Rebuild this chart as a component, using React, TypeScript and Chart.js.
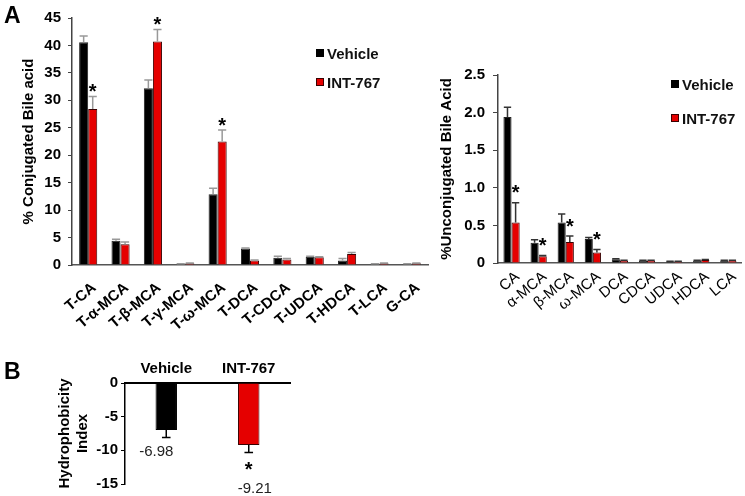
import React, { useEffect, useRef } from 'react';
import { Chart, registerables } from 'chart.js';

Chart.register(...registerables);

const FONT = '"Liberation Sans", Arial, Helvetica, sans-serif';

// ---------- Panel A (left): conjugated bile acids ----------
const conjCategories = ['T-CA', 'T-α-MCA', 'T-β-MCA', 'T-γ-MCA', 'T-ω-MCA', 'T-DCA', 'T-CDCA', 'T-UDCA', 'T-HDCA', 'T-LCA', 'G-CA'];
const conjVehicle = [40.6, 4.4, 32.2, 0.2, 12.9, 3.0, 1.3, 1.5, 0.8, 0.2, 0.2];
const conjVehicleErr = [1.1, 0.3, 1.5, 0.05, 1.1, 0.1, 0.3, 0.1, 0.4, 0.05, 0.05];
const conjInt = [28.4, 3.8, 40.7, 0.3, 22.5, 0.8, 1.0, 1.4, 2.0, 0.3, 0.3];
const conjIntErr = [2.3, 0.4, 2.2, 0.05, 2.1, 0.1, 0.2, 0.1, 0.3, 0.05, 0.05];
const conjIntSig = [true, false, true, false, true, false, false, false, false, false, false];
const conjYTicks = [0, 5, 10, 15, 20, 25, 30, 35, 40, 45];

// ---------- Panel A (right): unconjugated bile acids ----------
const unconjCategories = ['CA', 'α-MCA', 'β-MCA', 'ω-MCA', 'DCA', 'CDCA', 'UDCA', 'HDCA', 'LCA'];
const unconjVehicle = [1.94, 0.27, 0.54, 0.32, 0.05, 0.03, 0.02, 0.03, 0.03];
const unconjVehicleErr = [0.13, 0.04, 0.11, 0.02, 0.005, 0.005, 0.003, 0.005, 0.005];
const unconjInt = [0.54, 0.09, 0.28, 0.14, 0.03, 0.03, 0.02, 0.04, 0.03];
const unconjIntErr = [0.26, 0.01, 0.08, 0.04, 0.005, 0.005, 0.003, 0.005, 0.005];
const unconjIntSig = [true, true, true, true, false, false, false, false, false];
const unconjYTicks = [0, 0.5, 1, 1.5, 2, 2.5];

// ---------- Panel B: hydrophobicity index ----------
const hydroCategories = ['Vehicle', 'INT-767'];
const hydroValues = [-6.98, -9.21];
const hydroErr = [1.1, 1.1];
const hydroSig = [false, true];
const hydroYTicks = [0, -5, -10, -15];

const seriesNames = ['Vehicle', 'INT-767'];
const BLACK = '#000000';
const RED = '#e50000';

type ErrCfg = {
  errors: number[][];
  stars: boolean[][];
  color: string;
  lineWidth: number;
  capRatio: number;
  starGap: number;
  starSize: number;
  valueLabels?: boolean;
};

function makeErrPlugin(cfg: ErrCfg) {
  return {
    id: 'errAnno',
    afterDatasetsDraw(chart: any) {
      const ctx = chart.ctx;
      const y = chart.scales.y;
      ctx.save();
      cfg.errors.forEach((errs, di) => {
        const meta = chart.getDatasetMeta(di);
        const vals = chart.data.datasets[di].data as number[];
        meta.data.forEach((bar: any, i: number) => {
          const v = vals[i];
          const e = errs[i];
          const dir = v < 0 ? -1 : 1;
          const yEnd = y.getPixelForValue(v + dir * e);
          const w = bar.width * cfg.capRatio;
          ctx.strokeStyle = cfg.color;
          ctx.lineWidth = cfg.lineWidth;
          ctx.beginPath();
          ctx.moveTo(bar.x, bar.y);
          ctx.lineTo(bar.x, yEnd);
          ctx.moveTo(bar.x - w / 2, yEnd);
          ctx.lineTo(bar.x + w / 2, yEnd);
          ctx.stroke();
          const star = cfg.stars[di] && cfg.stars[di][i];
          if (star) {
            const cy = yEnd - dir * cfg.starGap;
            ctx.fillStyle = '#000';
            ctx.font = `bold ${cfg.starSize}px ${FONT}`;
            ctx.textAlign = 'center';
            ctx.textBaseline = 'alphabetic';
            ctx.fillText('*', bar.x, cy + cfg.starSize * 0.58);
          }
          if (cfg.valueLabels) {
            const ly = yEnd + (star ? 36 : 14);
            const lx = bar.x + (star ? 6 : -10);
            ctx.fillStyle = '#222';
            ctx.font = `15px ${FONT}`;
            ctx.textAlign = 'center';
            ctx.textBaseline = 'middle';
            ctx.fillText(v.toFixed(2), lx, ly);
          }
        });
      });
      ctx.restore();
    },
  };
}

function ChartBox({ left, top, width, height, make }: { left: number; top: number; width: number; height: number; make: () => any }) {
  const ref = useRef<HTMLCanvasElement>(null);
  useEffect(() => {
    const chart = new Chart(ref.current as HTMLCanvasElement, make());
    return () => chart.destroy();
  }, []);
  return <canvas ref={ref} width={width} height={height} style={{ position: 'absolute', left, top, width, height }} />;
}

function Legend({ left, top, gap }: { left: number; top: number; gap: number }) {
  const colors = [BLACK, RED];
  const borders = ['#000', '#3a0000'];
  return (
    <div style={{ position: 'absolute', left, top, font: `bold 15px ${FONT}`, color: '#111' }}>
      {seriesNames.map((name, i) => (
        <div key={name} style={{ display: 'flex', alignItems: 'center', height: 18, marginBottom: gap - 18, whiteSpace: 'nowrap' }}>
          <span style={{ display: 'inline-block', width: 8, height: 8, background: colors[i], border: `1px solid ${borders[i]}`, boxSizing: 'border-box', marginRight: 3 }} />
          <span>{name}</span>
        </div>
      ))}
    </div>
  );
}

const tickFont = (size: number, weight: string = 'bold') => ({ family: FONT, size, weight });

function conjConfig() {
  return {
    type: 'bar',
    data: {
      labels: conjCategories,
      datasets: [
        { label: seriesNames[0], data: conjVehicle, backgroundColor: BLACK, borderColor: '#222', borderWidth: 1 },
        { label: seriesNames[1], data: conjInt, backgroundColor: RED, borderColor: '#3a0000', borderWidth: 1 },
      ],
    },
    options: {
      responsive: false,
      animation: false,
      layout: { padding: { top: 18, right: 12, left: 0, bottom: 0 } },
      plugins: { legend: { display: false }, tooltip: { enabled: false } },
      datasets: { bar: { categoryPercentage: 0.56, barPercentage: 1 } },
      scales: {
        x: {
          grid: { display: false, drawTicks: false },
          border: { color: '#555', width: 1.5 },
          ticks: { font: tickFont(15), color: '#000', maxRotation: 40, minRotation: 40, autoSkip: false, padding: 14, labelOffset: 6 },
          afterFit: (s: any) => { s.height = 75; },
        },
        y: {
          min: 0,
          max: 45,
          afterBuildTicks: (s: any) => { s.ticks = conjYTicks.map((v) => ({ value: v })); },
          grid: { drawOnChartArea: false, drawTicks: true, tickLength: 4, color: '#444' },
          border: { color: '#444', width: 1.5 },
          ticks: { font: tickFont(15), color: '#000', padding: 7 },
          title: { display: true, text: '% Conjugated Bile acid', font: tickFont(15), color: '#000', padding: { top: 20, bottom: 0 } },
          afterFit: (s: any) => { s.width = 72; },
        },
      },
    },
    plugins: [
      makeErrPlugin({
        errors: [conjVehicleErr, conjIntErr],
        stars: [[], conjIntSig],
        color: '#999',
        lineWidth: 1.5,
        capRatio: 0.9,
        starGap: 10,
        starSize: 20,
      }),
    ],
  };
}

function unconjConfig() {
  return {
    type: 'bar',
    data: {
      labels: unconjCategories,
      datasets: [
        { label: seriesNames[0], data: unconjVehicle, backgroundColor: BLACK, borderColor: '#222', borderWidth: 1 },
        { label: seriesNames[1], data: unconjInt, backgroundColor: RED, borderColor: '#3a0000', borderWidth: 1 },
      ],
    },
    options: {
      responsive: false,
      animation: false,
      layout: { padding: { top: 35, right: 2, left: 0, bottom: 0 } },
      plugins: { legend: { display: false }, tooltip: { enabled: false } },
      datasets: { bar: { categoryPercentage: 0.6, barPercentage: 1 } },
      scales: {
        x: {
          grid: { display: false, drawTicks: false },
          border: { color: '#555', width: 1.5 },
          ticks: { font: tickFont(15, 'normal'), color: '#000', maxRotation: 40, minRotation: 40, autoSkip: false, padding: 5, labelOffset: 6 },
          afterFit: (s: any) => { s.height = 77; },
        },
        y: {
          min: 0,
          max: 2.5,
          afterBuildTicks: (s: any) => { s.ticks = unconjYTicks.map((v) => ({ value: v })); },
          grid: { drawOnChartArea: false, drawTicks: true, tickLength: 5, color: '#444' },
          border: { color: '#444', width: 1.5 },
          ticks: { font: tickFont(15), color: '#000', padding: 8 },
          title: { display: true, text: '%Unconjugated Bile Acid', font: tickFont(15), color: '#000', padding: { top: 8, bottom: 0 } },
          afterFit: (s: any) => { s.width = 68; },
        },
      },
    },
    plugins: [
      makeErrPlugin({
        errors: [unconjVehicleErr, unconjIntErr],
        stars: [[], unconjIntSig],
        color: '#333',
        lineWidth: 1.5,
        capRatio: 0.9,
        starGap: 15,
        starSize: 20,
      }),
    ],
  };
}

function hydroConfig() {
  return {
    type: 'bar',
    data: {
      labels: hydroCategories,
      datasets: [
        { label: 'Hydrophobicity Index', data: hydroValues, backgroundColor: [BLACK, RED], borderColor: ['#000', '#3a0000'], borderWidth: 1 },
      ],
    },
    options: {
      responsive: false,
      animation: false,
      layout: { padding: { top: 0, right: 20, left: 0, bottom: 11 } },
      plugins: { legend: { display: false }, tooltip: { enabled: false } },
      datasets: { bar: { categoryPercentage: 0.26, barPercentage: 1 } },
      scales: {
        x: {
          position: 'top',
          grid: { display: false, drawTicks: false },
          border: { color: '#000', width: 2 },
          ticks: { font: tickFont(15), color: '#000', padding: 5 },
          afterFit: (s: any) => { s.height = 43; },
        },
        y: {
          min: -15,
          max: 0,
          afterBuildTicks: (s: any) => { s.ticks = hydroYTicks.map((v) => ({ value: v })); },
          grid: { drawOnChartArea: false, drawTicks: true, tickLength: 4, color: '#000' },
          border: { color: '#000', width: 1.5 },
          ticks: { font: tickFont(15), color: '#000', padding: 3 },
          title: { display: true, text: ['Hydrophobicity', 'Index'], font: tickFont(15), color: '#000', padding: { top: 56, bottom: 0 } },
          afterFit: (s: any) => { s.width = 125; },
        },
      },
    },
    plugins: [
      makeErrPlugin({
        errors: [hydroErr],
        stars: [hydroSig],
        color: '#000',
        lineWidth: 1.5,
        capRatio: 0.4,
        starGap: 12,
        starSize: 20,
        valueLabels: true,
      }),
    ],
  };
}

export default function App() {
  return (
    <div style={{ position: 'absolute', left: 0, top: 0, width: 745, height: 496, overflow: 'hidden', background: '#fff' }}>
      <ChartBox left={0} top={0} width={440} height={340} make={conjConfig} />
      <ChartBox left={430} top={40} width={315} height={300} make={unconjConfig} />
      <ChartBox left={0} top={340} width={310} height={156} make={hydroConfig} />
      <Legend left={316} top={44} gap={29} />
      <Legend left={671} top={75} gap={34} />
      <div style={{ position: 'absolute', left: 4, top: 3, font: `bold 23px ${FONT}`, lineHeight: '24px' }}>A</div>
      <div style={{ position: 'absolute', left: 4, top: 359, font: `bold 23px ${FONT}`, lineHeight: '24px' }}>B</div>
    </div>
  );
}
